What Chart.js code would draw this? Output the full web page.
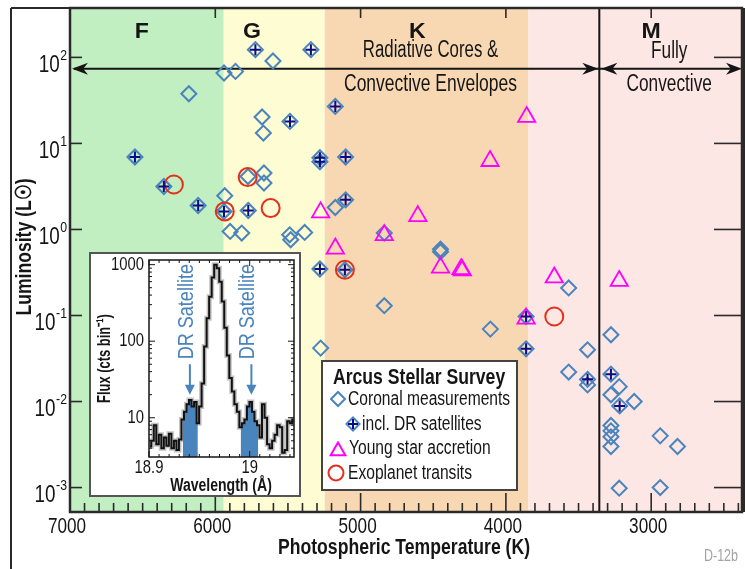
<!DOCTYPE html>
<html>
<head>
<meta charset="utf-8">
<script src="https://cdn.jsdelivr.net/npm/chart.js@4.4.1/dist/chart.umd.min.js"></script>
<style>
  html, body { margin: 0; padding: 0; background: #fff; }
  #wrap { position: relative; width: 748px; height: 569px; overflow: hidden; }
  #main { position: absolute; left: 0; top: 0; }
  #inset { position: absolute; left: 89px; top: 252px; }
</style>
</head>
<body>
<div id="wrap">
  <canvas id="main" width="748" height="569"></canvas>
  <canvas id="inset" width="212" height="245"></canvas>
</div>
<script>
// narrow look: Liberation Sans squeezed horizontally (no condensed face installed)
const FONT = "'Liberation Sans', Arial, sans-serif";
const NARROW = 0.78;
const INK = '#151515';
const BLUE = '#4a84bc';

// Spectral classes (K)
const classLabels = ['F', 'G', 'K', 'M'];
const classEdges = [7000, 5942, 5247, 3845, 2375];
const classColors = ['#c2efc2', '#fefcd2', '#f8d8b2', '#fde7e4'];
const classLabelTemp = [6505, 5748, 4610, 3000];
const convectiveLimit = 3357;

// Axes
const tempRange = [2375, 7000];
const lumRange = [5.2e-4, 375];
const xMajorTicks = [7000, 6000, 5000, 4000, 3000];
const yDecades = [-3, -2, -1, 0, 1, 2];

// Coronal measurements (open diamonds)
const coronalTemp = [6182, 5940, 5861, 5603, 5678, 5669, 5935, 5898, 5818, 5775, 5665, 5665, 5488, 5481, 5385,
  5174, 4837, 4450, 4450, 3568, 4837, 4107, 5275, 3277, 3438, 3568, 3438, 3220, 3277, 3117,
  3277, 3277, 3277, 3277, 2938, 2819, 3220, 2938];
const coronalLum = [37.8, 65.9, 68.7, 90.8, 20.3, 13.2, 2.47, 0.948, 0.908, 4.13, 4.53, 3.47, 0.867, 0.759, 0.923,
  1.80, 0.908, 0.589, 0.551, 0.209, 0.130, 0.0695, 0.0418, 0.0597, 0.0399, 0.0220, 0.0156, 0.0149, 0.0120, 0.0100,
  0.00526, 0.00456, 0.00389, 0.00300, 0.00399, 0.00300, 0.000984, 0.00100];

// Coronal measurements incl. DR satellites (diamond + cross)
const drTemp = [6553, 6354, 6118, 5940, 5773, 5724, 5342, 5486, 5174, 5280, 5280, 5103, 5103, 5280, 5108,
  3861, 3861, 3438, 3277, 3217];
const drLum = [6.95, 3.16, 1.90, 1.62, 1.66, 123, 123, 18.0, 26.9, 6.82, 6.12, 6.95, 2.21, 0.347, 0.340,
  0.0973, 0.0410, 0.0181, 0.0208, 0.0089];

// Young star accretion (triangles)
const youngTemp = [5275, 5174, 4837, 4606, 4450, 4308, 4300, 3857, 4109, 3667, 3220, 3861];
const youngLum = [1.58, 0.60, 0.86, 1.43, 0.36, 0.345, 0.335, 20.3, 6.25, 0.277, 0.252, 0.092];

// Exoplanet transits (circles)
const exoTemp = [6285, 5935, 5777, 5619, 5108, 3667];
const exoLum = [3.33, 1.62, 4.06, 1.77, 0.340, 0.0973];

// Arrow annotation
const arrowLum = 74;
const classLabelLum = 200;
const regimeTextTemp = [4519, 2876];

// Inset: O VIII spectrum (bin centres, counts per bin)
const insetWave = [18.901, 18.9035, 18.906, 18.9085, 18.911, 18.9135, 18.916, 18.9185, 18.921, 18.9235,
  18.926, 18.9285, 18.931, 18.9335, 18.936, 18.9385, 18.941, 18.9435, 18.946, 18.9485,
  18.951, 18.9535, 18.956, 18.9585, 18.961, 18.9635, 18.966, 18.9685, 18.971, 18.9735,
  18.976, 18.9785, 18.981, 18.9835, 18.986, 18.9885, 18.991, 18.9935, 18.996, 18.9985,
  19.001, 19.0035, 19.006, 19.0085, 19.011, 19.0135, 19.016, 19.0185, 19.021, 19.0235,
  19.026, 19.0285, 19.031, 19.0335, 19.036, 19.0385, 19.041, 19.0435];
const insetFlux = [4.2, 5, 8, 4.5, 6, 4, 5.5, 4.3, 6.2, 4,
  5, 3.8, 5.2, 9.5, 12, 15, 17, 14, 16, 8.5,
  14, 28, 85, 200, 380, 680, 1000, 900, 600, 330,
  150, 65, 33, 22, 15, 12, 7.5, 8.5, 9.5, 14,
  16, 12, 9, 8, 5.5, 15, 10, 4.5, 4, 5,
  6, 8, 7.5, 3.5, 3.8, 9, 8.5, 9.5];
const drBands = [[18.933, 18.950], [18.991, 19.009]];
const drArrowWave = [18.9406, 19.0017];
const insetXRange = [18.9, 19.044];
const insetYRange = [3.07, 1150];
const insetXTicks = [18.9, 19.0];
const insetYTicks = [10, 100, 1000];

const toPoints = (xs, ys) => xs.map((v, i) => ({ x: v, y: ys[i] }));

function line(ctx, x0, y0, x1, y1) {
  ctx.beginPath(); ctx.moveTo(x0, y0); ctx.lineTo(x1, y1); ctx.stroke();
}

function text(ctx, str, x, y, size, opts = {}) {
  const { bold = false, align = 'left', sx = NARROW, color = INK, rotate = 0 } = opts;
  ctx.save();
  ctx.translate(x, y);
  if (rotate) ctx.rotate(rotate);
  ctx.scale(sx, 1);
  ctx.font = (bold ? 'bold ' : '') + size + 'px ' + FONT;
  ctx.fillStyle = color;
  ctx.textAlign = align;
  ctx.textBaseline = 'middle';
  ctx.fillText(str, 0, 0);
  ctx.restore();
}

function textWidth(ctx, str, size, sx = NARROW) {
  ctx.save();
  ctx.font = size + 'px ' + FONT;
  const w = ctx.measureText(str).width * sx;
  ctx.restore();
  return w;
}

function arrowHead(ctx, tx, ty, dir, len, half) {
  ctx.beginPath();
  ctx.moveTo(tx, ty);
  ctx.lineTo(tx - dir * len, ty - half);
  ctx.lineTo(tx - dir * len * 0.7, ty);
  ctx.lineTo(tx - dir * len, ty + half);
  ctx.closePath();
  ctx.fill();
}

function marker(ctx, style, r, x, y, color, lw) {
  ctx.strokeStyle = color; ctx.fillStyle = 'rgba(0,0,0,0)';
  Chart.helpers.drawPoint(ctx, { pointStyle: style, radius: r, rotation: 0, borderWidth: lw }, x, y);
}

const stellarDecor = {
  id: 'stellarDecor',
  beforeDatasetsDraw(chart) {
    const { ctx, chartArea: a, scales: { x, y } } = chart;
    ctx.save();
    classColors.forEach((c, i) => {
      const x0 = x.getPixelForValue(classEdges[i]), x1 = x.getPixelForValue(classEdges[i + 1]);
      ctx.fillStyle = c;
      ctx.fillRect(x0, a.top, x1 - x0, a.bottom - a.top);
    });
    const xb = x.getPixelForValue(convectiveLimit);
    ctx.strokeStyle = INK; ctx.lineWidth = 2;
    line(ctx, xb, a.top, xb, a.bottom);

    const ly = y.getPixelForValue(classLabelLum);
    classLabels.forEach((t, i) =>
      text(ctx, t, x.getPixelForValue(classLabelTemp[i]), ly, 22, { bold: true, align: 'center', sx: 1.05 }));

    // radiative / fully convective arrows
    const ay = y.getPixelForValue(arrowLum);
    ctx.fillStyle = INK;
    ctx.lineWidth = 2;
    line(ctx, a.left + 4, ay, a.right - 4, ay);
    arrowHead(ctx, a.left + 2, ay, -1, 16, 6);
    arrowHead(ctx, xb - 1, ay, 1, 16, 6);
    arrowHead(ctx, xb + 2, ay, -1, 16, 6);
    arrowHead(ctx, a.right, ay, 1, 16, 6);

    const rx = x.getPixelForValue(regimeTextTemp[0]), fx = x.getPixelForValue(regimeTextTemp[1]);
    text(ctx, 'Radiative Cores &', rx, ay - 18, 23, { align: 'center', sx: 0.73 });
    text(ctx, 'Convective Envelopes', rx, ay + 16, 23, { align: 'center', sx: 0.76 });
    text(ctx, 'Fully', fx, ay - 17, 23, { align: 'center', sx: 0.75 });
    text(ctx, 'Convective', fx, ay + 16, 23, { align: 'center', sx: 0.75 });
    ctx.restore();
  },
  afterDatasetsDraw(chart) {
    const { ctx, chartArea: a, scales: { x, y } } = chart;
    ctx.save();
    ctx.strokeStyle = '#2a2a2a';
    ctx.lineWidth = 1.6;
    // minor/major ticks on temperature axis
    for (let t = 2400; t <= 7000; t += 100) {
      const px = x.getPixelForValue(t);
      const major = t % 1000 === 0;
      line(ctx, px, a.bottom, px, a.bottom - (major ? 19 : 9));
      if (major) line(ctx, px, a.top, px, a.top + 10);
    }
    yDecades.forEach(e => {
      const py = y.getPixelForValue(Math.pow(10, e));
      line(ctx, a.left, py, a.left + 12, py);
      line(ctx, a.right, py, a.right - 28, py);
    });

    // plot frame and outer figure frame
    ctx.lineWidth = 2.5;
    ctx.strokeRect(a.left, a.top, a.right - a.left, a.bottom - a.top);
    ctx.lineWidth = 2;
    line(ctx, a.right + 2, a.top, a.right + 2, a.bottom);
    line(ctx, 11, a.top, a.right, a.top);
    line(ctx, 11, a.top, 11, chart.height);

    // tick labels
    xMajorTicks.forEach(t => text(ctx, String(t), x.getPixelForValue(t) - 3, a.bottom + 15, 22, { align: 'center' }));
    yDecades.forEach(e => {
      const py = y.getPixelForValue(Math.pow(10, e));
      const sup = e < 0 ? '-' + (-e) : String(e);
      const sw = textWidth(ctx, sup, 15, 0.82);
      text(ctx, sup, 67 - sw, py - 1.5, 15, { sx: 0.82 });
      text(ctx, '10', 67 - sw - 0.5, py + 8, 23, { align: 'right', sx: 0.82 });
    });

    // axis titles
    text(ctx, 'Photospheric Temperature (K)', (a.left + a.right) / 2 - 2, 548, 22, { bold: true, align: 'center', sx: 0.8 });
    text(ctx, 'Luminosity (L\u2609)', 25, 247, 22, { bold: true, align: 'center', rotate: -Math.PI / 2, sx: 0.8 });
    text(ctx, 'D-12b', 721, 557, 16, { align: 'center', color: '#a3a3a3' });

    // legend box
    ctx.fillStyle = '#fff';
    ctx.fillRect(322, 361, 195, 129);
    ctx.strokeStyle = '#444'; ctx.lineWidth = 2;
    ctx.strokeRect(322, 361, 195, 129);
    text(ctx, 'Arcus Stellar Survey', 333, 378, 22, { bold: true, sx: 0.8 });
    text(ctx, 'Coronal measurements', 348, 399, 20);
    text(ctx, 'incl. DR satellites', 362, 424, 20);
    text(ctx, 'Young star accretion', 349, 448, 20);
    text(ctx, 'Exoplanet transits', 348, 473, 20);
    marker(ctx, 'rectRot', 7, 338, 399, BLUE, 2);
    marker(ctx, 'rectRot', 6.5, 353, 424, BLUE, 2);
    marker(ctx, 'cross', 5, 353, 424, '#0b0b85', 2);
    marker(ctx, 'triangle', 8.5, 338, 451, '#ff00ff', 1.8);
    marker(ctx, 'circle', 7.5, 336, 473, '#e3301c', 2);
    ctx.restore();
  }
};

new Chart(document.getElementById('main'), {
  type: 'scatter',
  data: {
    datasets: [
      { label: 'DR satellites', data: toPoints(drTemp, drLum), pointStyle: 'cross', pointRadius: 5.5,
        pointBorderColor: '#0b0b85', pointBorderWidth: 2 },
      { label: 'Exoplanet transits', data: toPoints(exoTemp, exoLum), pointStyle: 'circle', pointRadius: 9,
        pointBorderColor: '#e3301c', pointBackgroundColor: 'rgba(0,0,0,0)', pointBorderWidth: 2 },
      { label: 'Young star accretion', data: toPoints(youngTemp, youngLum), pointStyle: 'triangle', pointRadius: 10,
        pointBorderColor: '#ff00ff', pointBackgroundColor: 'rgba(0,0,0,0)', pointBorderWidth: 1.8 },
      { label: 'incl. DR satellites', data: toPoints(drTemp, drLum), pointStyle: 'rectRot', pointRadius: 7.5,
        pointBorderColor: BLUE, pointBackgroundColor: 'rgba(0,0,0,0)', pointBorderWidth: 2 },
      { label: 'Coronal measurements', data: toPoints(coronalTemp, coronalLum), pointStyle: 'rectRot', pointRadius: 7.5,
        pointBorderColor: BLUE, pointBackgroundColor: 'rgba(0,0,0,0)', pointBorderWidth: 2 }
    ]
  },
  options: {
    responsive: false,
    animation: false,
    devicePixelRatio: 1,
    events: [],
    layout: { autoPadding: false, padding: { top: 8, right: 6, left: 0, bottom: 0 } },
    plugins: { legend: { display: false }, tooltip: { enabled: false } },
    scales: {
      x: {
        type: 'linear', reverse: true, min: tempRange[0], max: tempRange[1],
        grid: { display: false, drawTicks: false }, border: { display: false },
        afterBuildTicks: s => { s.ticks = xMajorTicks.map(v => ({ value: v })); },
        afterFit: s => { s.height = 57; },
        ticks: { display: false }
      },
      y: {
        type: 'logarithmic', min: lumRange[0], max: lumRange[1],
        grid: { display: false, drawTicks: false }, border: { display: false },
        ticks: { display: false },
        afterFit: s => { s.width = 70; }
      }
    }
  },
  plugins: [stellarDecor]
});

// ---- inset spectrum ----
const insetDecor = {
  id: 'insetDecor',
  beforeDraw(chart) {
    const { ctx, width, height } = chart;
    ctx.save();
    ctx.fillStyle = '#fff';
    ctx.fillRect(0, 0, width, height);
    ctx.strokeStyle = '#555'; ctx.lineWidth = 2;
    ctx.strokeRect(1, 1, width - 2, height - 2);
    ctx.restore();
  },
  afterDatasetsDraw(chart) {
    const { ctx, chartArea: a, scales: { x, y } } = chart;
    ctx.save();
    ctx.strokeStyle = INK; ctx.lineWidth = 1;
    for (let e = 0; e <= 3; e++) {
      for (let m = 1; m <= 9; m++) {
        const v = m * Math.pow(10, e);
        if (v < y.min || v > y.max) continue;
        const py = y.getPixelForValue(v), len = m === 1 ? 6 : 3;
        line(ctx, a.left, py, a.left + len, py);
        line(ctx, a.right, py, a.right - len, py);
      }
    }
    for (let k = 0; k <= 14; k++) {
      const px = x.getPixelForValue(18.9 + k * 0.01), len = k % 10 === 0 ? 6 : 3;
      line(ctx, px, a.bottom, px, a.bottom - len);
      line(ctx, px, a.top, px, a.top + len);
    }
    ctx.lineWidth = 1.5;
    ctx.strokeRect(a.left, a.top, a.right - a.left, a.bottom - a.top);

    // DR satellite markers
    ctx.strokeStyle = BLUE; ctx.fillStyle = BLUE; ctx.lineWidth = 2;
    drArrowWave.forEach(w => {
      const px = x.getPixelForValue(w);
      const top = y.getPixelForValue(50), tip = y.getPixelForValue(20);
      line(ctx, px, top, px, tip - 6);
      ctx.beginPath();
      ctx.moveTo(px, tip); ctx.lineTo(px - 5, tip - 10); ctx.lineTo(px + 5, tip - 10); ctx.closePath();
      ctx.fill();
      text(ctx, 'DR Satellite', px - 3, y.getPixelForValue(58), 22, { color: BLUE, rotate: -Math.PI / 2, sx: 0.82 });
    });

    // labels
    insetYTicks.forEach(v => text(ctx, String(v), a.left - 5, y.getPixelForValue(v), 19, { align: 'right' }));
    insetXTicks.forEach(v => text(ctx, v === 19 ? '19' : v.toFixed(1), x.getPixelForValue(v), a.bottom + 11, 19, { align: 'center' }));
    text(ctx, 'Wavelength (\u00C5)', 132, 234, 18, { bold: true, align: 'center' });
    text(ctx, 'Flux (cts bin\u207B\u00B9)', 15.5, 106.5, 19, { bold: true, align: 'center', rotate: -Math.PI / 2, sx: 0.68 });
    ctx.restore();
  }
};

const spectrum = toPoints(insetWave, insetFlux);
const drFill = band => spectrum.filter(p => p.x >= band[0] && p.x <= band[1]);

new Chart(document.getElementById('inset'), {
  type: 'line',
  data: {
    datasets: [
      { data: spectrum, borderColor: '#111', borderWidth: 2, pointRadius: 0, stepped: 'middle', fill: false },
      { data: drFill(drBands[0]), borderWidth: 0, pointRadius: 0, stepped: 'middle', fill: 'start', backgroundColor: BLUE },
      { data: drFill(drBands[1]), borderWidth: 0, pointRadius: 0, stepped: 'middle', fill: 'start', backgroundColor: BLUE },
      { data: spectrum, borderColor: 'rgba(175,175,175,0.75)', borderWidth: 5, pointRadius: 0, stepped: 'middle', fill: false }
    ]
  },
  options: {
    responsive: false,
    animation: false,
    devicePixelRatio: 1,
    events: [],
    layout: { autoPadding: false, padding: { top: 8, right: 7, left: 0, bottom: 0 } },
    plugins: { legend: { display: false }, tooltip: { enabled: false } },
    scales: {
      x: {
        type: 'linear', min: insetXRange[0], max: insetXRange[1],
        grid: { display: false, drawTicks: false }, border: { display: false },
        afterBuildTicks: s => { s.ticks = insetXTicks.map(v => ({ value: v })); },
        afterFit: s => { s.height = 40; },
        ticks: { display: false }
      },
      y: {
        type: 'logarithmic', min: insetYRange[0], max: insetYRange[1],
        grid: { display: false, drawTicks: false }, border: { display: false },
        afterBuildTicks: s => { s.ticks = insetYTicks.map(v => ({ value: v })); },
        afterFit: s => { s.width = 60; },
        ticks: { display: false }
      }
    }
  },
  plugins: [insetDecor]
});
</script>
</body>
</html>
